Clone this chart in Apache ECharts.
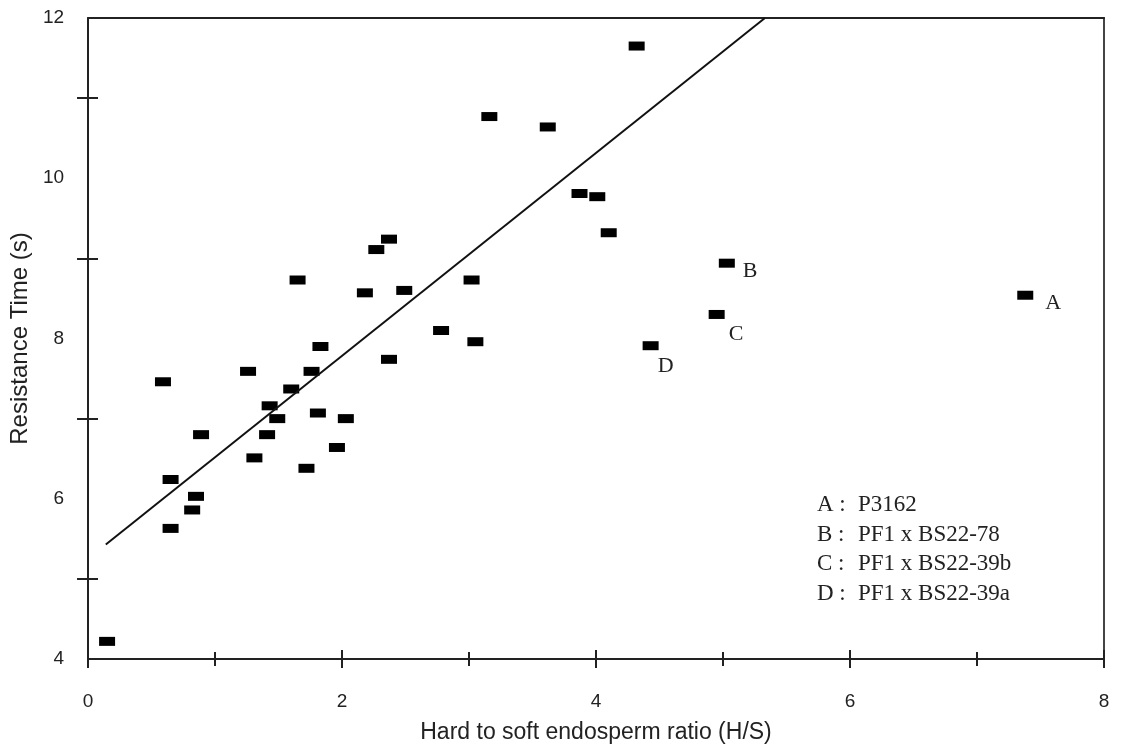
<!DOCTYPE html>
<html>
<head>
<meta charset="utf-8">
<script src="https://cdn.jsdelivr.net/npm/echarts@6/dist/echarts.min.js"></script>
<style>
html,body{margin:0;padding:0;background:#fff;}
#chart{width:1121px;height:749px;}
</style>
</head>
<body>
<div id="chart"></div>
<script>
// ---- data ----
var hsRatio = [0.15, 0.59, 0.65, 0.65, 0.82, 0.85, 0.89, 1.26, 1.31, 1.41,
               1.43, 1.49, 1.60, 1.65, 1.72, 1.76, 1.81, 1.83, 1.96, 2.03,
               2.18, 2.27, 2.37, 2.37, 2.49, 2.78, 3.02, 3.05, 3.16, 3.62,
               3.87, 4.01, 4.10, 4.32];
var resistTime = [4.22, 7.46, 6.24, 5.63, 5.86, 6.03, 6.80, 7.59, 6.51, 6.80,
                  7.16, 7.00, 7.37, 8.73, 6.38, 7.59, 7.07, 7.90, 6.64, 7.00,
                  8.57, 9.11, 9.24, 7.74, 8.60, 8.10, 8.73, 7.96, 10.77, 10.64,
                  9.81, 9.77, 9.32, 11.65];
var labelNames = ['A', 'B', 'C', 'D'];
var labelX = [7.38, 5.03, 4.95, 4.43];
var labelY = [8.54, 8.94, 8.30, 7.91];
var trendX = [0.14, 5.33];
var trendY = [5.43, 12];
var legendKeys = ['A :', 'B :', 'C :', 'D :'];
var legendNames = ['P3162', 'PF1 x BS22-78', 'PF1 x BS22-39b', 'PF1 x BS22-39a'];
var xTicks = [0, 2, 4, 6, 8];
var yTicks = [4, 6, 8, 10, 12];

// ---- chart ----
var chart = echarts.init(document.getElementById('chart'), null, {renderer: 'canvas'});
var sans = '"Liberation Sans", Arial, sans-serif';
var serif = '"Liberation Serif", "Times New Roman", serif';
var axisColor = '#222';

var mainData = hsRatio.map(function (x, i) { return [x, resistTime[i]]; });
var labelOffsets = {A: [12, 8], B: [8, 8], C: [4, 20], D: [-1, 21]};
var namedData = labelNames.map(function (n, i) {
  return {
    value: [labelX[i], labelY[i]],
    name: n,
    label: {offset: labelOffsets[n]}
  };
});
var trendData = trendX.map(function (x, i) { return [x, trendY[i]]; });

var graphics = [];
legendKeys.forEach(function (k, i) {
  graphics.push({
    type: 'text', x: 817, y: 505 + i * 29.5, silent: true,
    style: {text: k, font: '23px ' + serif, fill: '#222', verticalAlign: 'middle', align: 'left'}
  });
  graphics.push({
    type: 'text', x: 858, y: 505 + i * 29.5, silent: true,
    style: {text: legendNames[i], font: '23px ' + serif, fill: '#222', verticalAlign: 'middle', align: 'left'}
  });
});

var xBase = {
  type: 'value', min: xTicks[0], max: xTicks[xTicks.length - 1], interval: 2,
  splitLine: {show: false}
};
var yBase = {
  type: 'value', min: yTicks[0], max: yTicks[yTicks.length - 1], interval: 2,
  splitLine: {show: false}
};

var option = {
  backgroundColor: '#fff',
  animation: false,
  grid: {left: 86, right: 17, top: 18, bottom: 83, containLabel: false},
  xAxis: [
    Object.assign({}, xBase, {
      position: 'bottom',
      name: 'Hard to soft endosperm ratio (H/S)',
      nameLocation: 'middle', nameGap: 62,
      nameTextStyle: {fontFamily: sans, fontSize: 23, color: '#222'},
      axisLine: {onZero: false, lineStyle: {color: axisColor, width: 2}},
      axisTick: {show: true, length: 9, lineStyle: {color: axisColor, width: 2}},
      minorTick: {show: true, splitNumber: 2, length: 7, lineStyle: {color: axisColor, width: 2}},
      axisLabel: {fontFamily: sans, fontSize: 19, color: '#222', margin: 33}
    }),
    Object.assign({}, xBase, {
      position: 'bottom',
      axisLine: {show: false, onZero: false},
      axisTick: {show: true, inside: true, length: 9, lineStyle: {color: axisColor, width: 2}},
      minorTick: {show: true, splitNumber: 2, length: 7, lineStyle: {color: axisColor, width: 2}},
      axisLabel: {show: false}
    }),
    Object.assign({}, xBase, {
      position: 'top',
      axisLine: {show: true, onZero: false, lineStyle: {color: axisColor, width: 2}},
      axisTick: {show: false},
      axisLabel: {show: false}
    })
  ],
  yAxis: [
    Object.assign({}, yBase, {
      position: 'left',
      name: 'Resistance Time (s)',
      nameLocation: 'middle', nameGap: 52,
      nameTextStyle: {fontFamily: sans, fontSize: 24, color: '#222'},
      axisLine: {onZero: false, lineStyle: {color: axisColor, width: 2}},
      axisTick: {show: false},
      minorTick: {show: true, splitNumber: 2, length: 11, lineStyle: {color: axisColor, width: 2}},
      axisLabel: {fontFamily: sans, fontSize: 19, color: '#222', margin: 24}
    }),
    Object.assign({}, yBase, {
      position: 'left',
      axisLine: {show: false, onZero: false},
      axisTick: {show: false, inside: true},
      minorTick: {show: true, splitNumber: 2, length: 10, lineStyle: {color: axisColor, width: 2}},
      axisLabel: {show: false}
    }),
    Object.assign({}, yBase, {
      position: 'right',
      axisLine: {show: true, onZero: false, lineStyle: {color: '#444', width: 2}},
      axisTick: {show: false},
      axisLabel: {show: false}
    })
  ],
  series: [
    {
      type: 'line', xAxisIndex: 0, yAxisIndex: 0,
      data: trendData, symbol: 'none', silent: true,
      lineStyle: {color: '#111', width: 2}
    },
    {
      type: 'scatter', xAxisIndex: 0, yAxisIndex: 0,
      data: mainData, symbol: 'rect', symbolSize: [16, 9], silent: true,
      itemStyle: {color: '#000', opacity: 1}
    },
    {
      type: 'scatter', xAxisIndex: 0, yAxisIndex: 0,
      data: namedData, symbol: 'rect', symbolSize: [16, 9], silent: true,
      itemStyle: {color: '#000', opacity: 1},
      label: {
        show: true, position: 'right', distance: 0,
        formatter: '{b}',
        fontFamily: serif, fontSize: 22, color: '#222'
      }
    }
  ],
  graphic: graphics
};
chart.setOption(option);
</script>
</body>
</html>
